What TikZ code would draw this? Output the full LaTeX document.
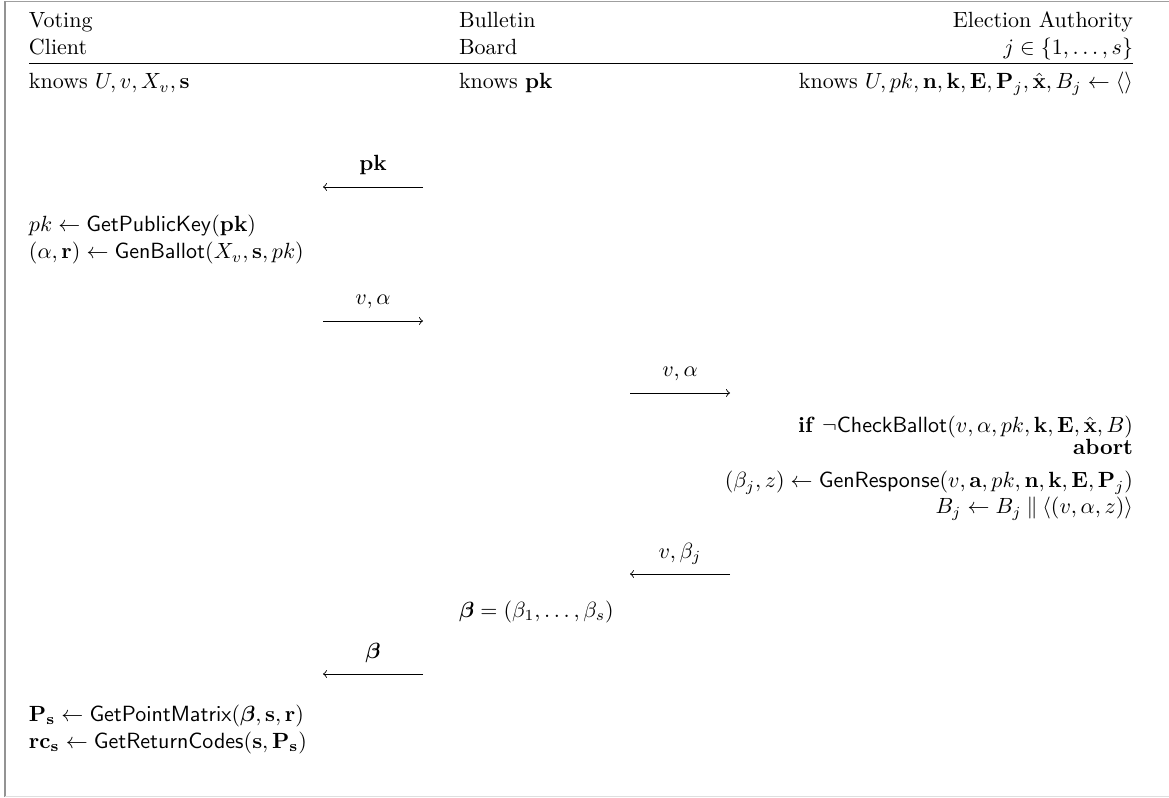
\documentclass[tikz,border=0pt]{standalone}
\usepackage{amsmath,amssymb,bm}
\begin{document}
\begin{tikzpicture}[x=0.4545pt,y=-0.4545pt,
  txt/.style={inner sep=0pt,outer sep=0pt},
  lw/.style={txt,anchor=base west},
  le/.style={txt,anchor=base east},
  lc/.style={txt,anchor=base},
  msg/.style={->,line width=0.4pt}]
\useasboundingbox (0,0) rectangle (1169,798);
% frame
\draw[gray!75,line width=0.5pt] (5,1.5) -- (1169,1.5);
\draw[gray!85,line width=0.5pt] (5,1.5) -- (5,796.5);
\draw[gray!25,line width=0.6pt] (5,796.5) -- (1169,796.5);
% header
\node[lw] (h1a) at (29,28) {Voting};
\node[lw] (h1b) at (29,55) {Client};
\node[lw] (h2a) at (459,28) {Bulletin};
\node[lw] (h2b) at (459,55) {Board};
\node[le] (h3a) at (1133,28) {Election Authority};
\node[le] (h3b) at (1133,55) {$j \in \{1,\dots,s\}$};
\coordinate (rl) at (29,63.5);
\coordinate (rr) at (1133,63.5);
\draw[line width=0.45pt] (rl) -- (rr);
% knows
\node[lw] (k1) at (29,89) {knows $U, v, X_v, \mathbf{s}$};
\node[lw] (k2) at (459,89) {knows $\mathbf{pk}$};
\node[le] (k3) at (1133,89) {knows $U, pk, \mathbf{n}, \mathbf{k}, \mathbf{E}, \mathbf{P}_j, \hat{\mathbf{x}}, B_j \gets \langle\rangle$};
% message pk
\coordinate (m1r) at (423,187);
\coordinate (m1l) at (323,187);
\node[lc] (m1t) at (373,171) {$\mathbf{pk}$};
\draw[msg] (m1r) -- (m1l);
\node[lw] (c1) at (29,232) {$pk \gets \mathsf{GetPublicKey}(\mathbf{pk})$};
\node[lw] (c2) at (29,259) {$(\alpha, \mathbf{r}) \gets \mathsf{GenBallot}(X_v, \mathbf{s}, pk)$};
% message v,alpha
\coordinate (m2l) at (323,321);
\coordinate (m2r) at (423,321);
\node[lc] (m2t) at (373,305) {$v, \alpha$};
\draw[msg] (m2l) -- (m2r);
% message v,alpha to EA
\coordinate (m3l) at (630,393);
\coordinate (m3r) at (730,393);
\node[lc] (m3t) at (680,377) {$v, \alpha$};
\draw[msg] (m3l) -- (m3r);
% EA steps
\node[le] (e1) at (1133,433) {\textbf{if} $\neg\mathsf{CheckBallot}(v, \alpha, pk, \mathbf{k}, \mathbf{E}, \hat{\mathbf{x}}, B)$};
\node[le] (e2) at (1133,455) {\textbf{abort}};
\node[le] (e3) at (1133,488) {$(\beta_j, z) \gets \mathsf{GenResponse}(v, \mathbf{a}, pk, \mathbf{n}, \mathbf{k}, \mathbf{E}, \mathbf{P}_j)$};
\node[le] (e4) at (1133,514) {$B_j \gets B_j \mathbin{\|} \langle (v, \alpha, z)\rangle$};
% message v,beta_j
\coordinate (m4r) at (730,574);
\coordinate (m4l) at (630,574);
\node[lc] (m4t) at (680,558) {$v, \beta_j$};
\draw[msg] (m4r) -- (m4l);
\node[lw] (b1) at (459,617) {$\bm{\beta} = (\beta_1, \dots, \beta_s)$};
% message beta
\coordinate (m5r) at (423,674);
\coordinate (m5l) at (323,674);
\node[lc] (m5t) at (373,658) {$\bm{\beta}$};
\draw[msg] (m5r) -- (m5l);
\node[lw] (c3) at (29,721) {$\mathbf{P}_{\mathbf{s}} \gets \mathsf{GetPointMatrix}(\bm{\beta}, \mathbf{s}, \mathbf{r})$};
\node[lw] (c4) at (29,748) {$\mathbf{rc}_{\mathbf{s}} \gets \mathsf{GetReturnCodes}(\mathbf{s}, \mathbf{P}_{\mathbf{s}})$};
\end{tikzpicture}
\end{document}
